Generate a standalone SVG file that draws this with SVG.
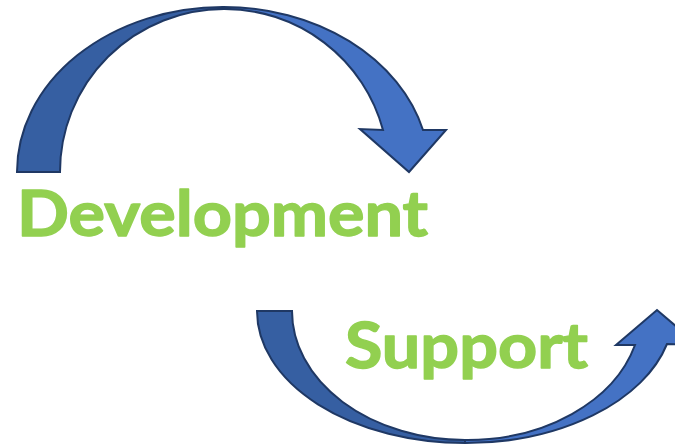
<svg xmlns="http://www.w3.org/2000/svg" width="675" height="445" viewBox="0 0 675 445">
  <style>
    .dark { fill: #365FA2; stroke: #1F3864; stroke-width: 2; stroke-linejoin: miter; }
    .light { fill: #4472C4; stroke: #1F3864; stroke-width: 2; stroke-linejoin: miter; }
    .label { font-family: Lato, "Open Sans", "Liberation Sans", sans-serif; font-weight: bold; fill: #92D050; stroke: #92D050; stroke-width: 1.4; stroke-linejoin: round; }
  </style>
  <rect width="675" height="445" fill="#FFFFFF"/>
  <g id="connectors">
    <g id="arrow-top">
      <path class="dark" d="M17,172 A206,165 0 0 1 223,7 L224,9 A164,163 0 0 0 60,172 Z"/>
      <path class="light" d="M223,7 A206,165 0 0 1 423,130 L446,130 L409,172 L360,129 L383,130 A164,163 0 0 0 224,9 Z"/>
    </g>
    <g id="arrow-bottom">
      <path class="dark" d="M257,311 A208,132 0 0 0 465,443 L465,440 A174,129 0 0 1 292,311 Z"/>
      <path class="light" d="M465,443 A208,132 0 0 0 667,344 L698,345 L657,310 L616,345 L635,345 A174,129 0 0 1 465,440 Z"/>
    </g>
  </g>
  <g id="node-development">
    <text class="label" x="17" y="236" font-size="63" textLength="411" lengthAdjust="spacingAndGlyphs">Development</text>
  </g>
  <g id="node-support">
    <text class="label" x="345" y="368" font-size="63" textLength="243" lengthAdjust="spacingAndGlyphs">Support</text>
  </g>
</svg>
